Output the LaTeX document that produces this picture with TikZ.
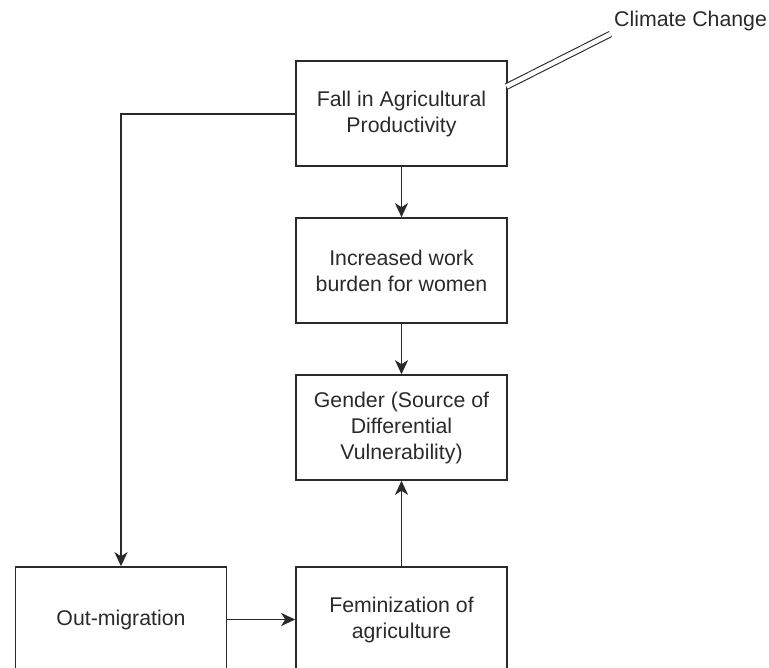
\documentclass[tikz,border=0pt]{standalone}
\usepackage{fontspec}
\setmainfont{Liberation Sans}
\usetikzlibrary{arrows.meta}
\definecolor{ink}{HTML}{2A2A2A}
\begin{document}
\begin{tikzpicture}[x=1pt,y=-1pt,
  box/.style={draw=ink, line width=1.6pt, rectangle, minimum width=211pt, minimum height=105pt, inner sep=0pt, align=center, text=ink, font=\fontsize{21.3}{26}\selectfont},
  conn/.style={draw=ink, line width=1.8pt, -{Stealth[length=14pt,width=13pt,inset=4pt]}},
  lbl/.style={text=ink, font=\fontsize{21.3}{26}\selectfont, inner sep=0pt}]
\useasboundingbox (0,0) rectangle (769,668);
\clip (0,0) rectangle (769,668);
\node[box] (fall) at (401.5,113.5) {Fall in Agricultural\\Productivity};
\node[box] (work) at (401.5,270.5) {Increased work\\burden for women};
\node[box] (gender) at (401.5,427.5) {Gender (Source of\\Differential\\Vulnerability)};
\node[box] (fem) at (401.5,619.5) {Feminization of\\agriculture};
\node[box] (out) at (121,619.5) {Out-migration};
\node[lbl, anchor=west] (cc) at (614,21) {Climate Change};
\coordinate (ccend) at (610.5,34);
\coordinate (fallr) at (506.5,86.5);
\draw[ink, line width=1.1pt, double=white, double distance=4.5pt] (fallr) -- (ccend);
\draw[conn] (fall.south) -- (work.north);
\draw[conn] (work.south) -- (gender.north);
\draw[conn] (fem.north) -- (gender.south);
\draw[conn] (out.east) -- (fem.west);
\coordinate (bend) at (121,114);
\draw[conn] (fall.west |- bend) -- (bend) -- (out.north);
\end{tikzpicture}
\end{document}
